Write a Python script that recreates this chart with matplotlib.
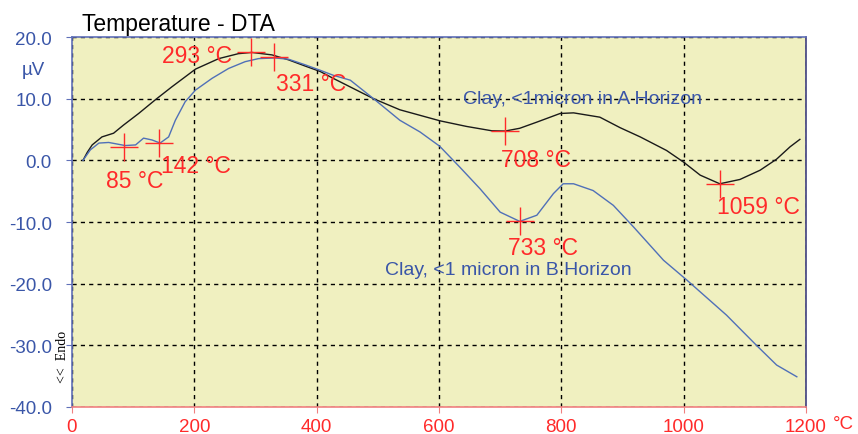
import matplotlib.pyplot as plt

# DTA curves (temperature in °C, signal in µV)
temp_a = [18, 25, 33, 49, 68, 84, 109, 136, 163, 202, 240, 272, 294, 327, 354, 381,
          406, 427, 455, 493, 536, 569, 602, 645, 686, 708, 732, 760, 798, 820, 863,
          896, 929, 972, 1000, 1027, 1059, 1092, 1125, 1152, 1174, 1190]
dta_a = [0, 1.3, 2.5, 3.8, 4.4, 5.7, 7.6, 9.8, 11.9, 14.8, 16.5, 17.3, 17.5, 17.1, 16.3, 15.3,
         14.4, 13.3, 11.9, 10.0, 8.2, 7.3, 6.4, 5.5, 4.8, 4.75, 5.2, 6.2, 7.6, 7.7, 7.0,
         5.3, 3.8, 1.6, -0.3, -2.4, -3.8, -3.1, -1.6, 0.2, 2.2, 3.4]

temp_b = [18, 30, 44, 60, 87, 104, 117, 131, 144, 158, 169, 185, 202, 229, 256, 283, 305,
          332, 354, 381, 406, 427, 455, 493, 536, 569, 601, 634, 667, 700, 732, 760, 787,
          803, 820, 852, 885, 918, 967, 1005, 1070, 1119, 1152, 1185]
dta_b = [0, 1.7, 2.8, 2.9, 2.4, 2.5, 3.6, 3.3, 2.8, 3.8, 6.5, 9.5, 11.4, 13.3, 14.9, 16.0, 16.5,
         16.6, 16.4, 15.5, 14.6, 13.8, 13.0, 10.0, 6.5, 4.6, 2.3, -1.1, -4.6, -8.4, -9.9, -8.9, -5.4,
         -3.8, -3.8, -4.9, -7.3, -10.8, -16.2, -19.4, -25.1, -30.0, -33.2, -35.1]

# marked peaks and their labels
peak_t = [85, 142, 293, 331, 708, 733, 1059]
peak_v = [2.2, 2.8, 17.6, 16.7, 4.8, -9.9, -3.9]
peak_labels = ["85 °C", "142 °C", "293 °C", "331 °C", "708 °C", "733 °C", "1059 °C"]
label_x = [55, 145, 261, 333, 702, 713, 1054]
label_y = [-4.3, -1.9, 16.0, 11.4, -0.9, -15.2, -8.6]
label_ha = ["left", "left", "right", "left", "left", "left", "left"]

x_ticks = [0, 200, 400, 600, 800, 1000, 1200]
y_ticks = [-40, -30, -20, -10, 0, 10, 20]

RED = "#ff2a2a"
BLUE = "#3a56a8"
plt.rcParams["font.family"] = ["Liberation Sans", "DejaVu Sans"]

fig = plt.figure(figsize=(8.58, 4.35), dpi=100)
ax = fig.add_axes([0.0839, 0.0621, 0.8555, 0.8505])
ax.set_facecolor("#f0f0c0")

ax.plot(temp_a, dta_a, color="#1a1a1a", lw=1.0)
ax.plot(temp_b, dta_b, color="#5070b8", lw=1.0)
ax.plot(peak_t, peak_v, "+", color=RED, ms=20, mew=1.0, ls="none")

for x, y, s, ha in zip(label_x, label_y, peak_labels, label_ha):
    ax.text(x, y, s, color=RED, fontsize=16.5, ha=ha, va="baseline")

ax.text(640, 9.35, "Clay, <1micron in A Horizon", color=BLUE, fontsize=14, va="baseline")
ax.text(512, -18.4, "Clay, <1 micron in B Horizon", color=BLUE, fontsize=14, va="baseline")

ax.set_xlim(0, 1200)
ax.set_ylim(-40, 20)
ax.set_xticks(x_ticks)
ax.set_yticks(y_ticks)
ax.set_xticklabels([str(t) for t in x_ticks])
ax.set_yticklabels([f"{t:.1f}" for t in y_ticks])
ax.grid(True, color="black", ls=(0, (3, 3)), lw=1.0)

ax.tick_params(axis="x", colors="#f08080", labelcolor=RED, labelsize=13.5, length=4, pad=4)
ax.tick_params(axis="y", colors="#6070b8", labelcolor=BLUE, labelsize=13.5, length=4.5, pad=10)

ax.spines["left"].set_color("#6070b8")
ax.spines["top"].set_color("#6070b8")
ax.spines["bottom"].set_color("#f08080")
ax.spines["right"].set_color("#404080")
for sp in ax.spines.values():
    sp.set_linewidth(1.2)

fig.text(0.0956, 0.929, "Temperature - DTA", fontsize=16.5, color="black", va="baseline")
fig.text(0.0385, 0.8276, "µV", fontsize=13.5, color=BLUE, ha="center", va="baseline")
fig.text(0.971, 0.014, "°C", fontsize=13.5, color=RED, ha="left", va="baseline")
fig.text(0.0723, 0.179, "<<  Endo", fontsize=10, family="Liberation Serif",
         rotation=90, ha="center", va="center")

fig.savefig("out.png", dpi=100)
